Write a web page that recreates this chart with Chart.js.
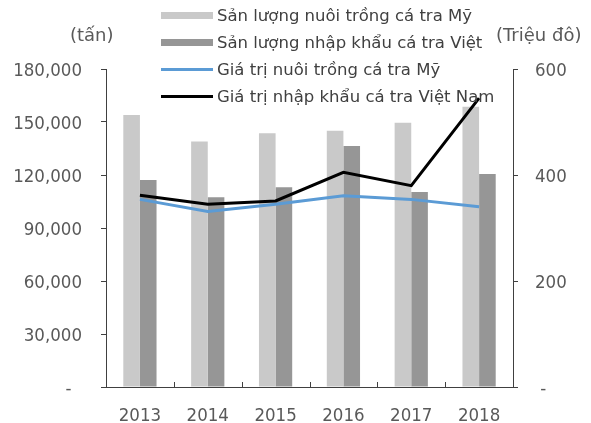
<!DOCTYPE html>
<html>
<head>
<meta charset="utf-8">
<script src="https://cdn.jsdelivr.net/npm/chart.js@4/dist/chart.umd.min.js"></script>
<style>
    body { margin: 0; background: #fff; }
    #wrap { position: relative; width: 591px; height: 423px; font-family: "DejaVu Sans", sans-serif; }
    .unit { position: absolute; top: 24px; font-size: 18px; color: #595959; }
    .row { position: absolute; left: 161px; height: 26px; display: flex; align-items: center; font-size: 16.5px; color: #404040; white-space: nowrap; }
    .sw { width: 52px; margin-right: 4px; }
</style>
</head>
<body>
<div id="wrap">
    <canvas id="myChart" width="591" height="423"></canvas>
    <div class="unit" style="left:70px">(tấn)</div>
    <div class="unit" style="left:496px">(Triệu đô)</div>
    <div id="legend"></div>
</div>
<script>
const years = ['2013', '2014', '2015', '2016', '2017', '2018'];
// tonnes
const usFarmed = [154000, 139000, 143600, 145000, 149600, 158700];
const vnImport = [117200, 107400, 113000, 136400, 110400, 120600];
// million USD
const usValue = [354, 331, 345, 361, 354, 340];
const vnValue = [362, 345, 351, 405, 380, 545];

const leftTicks = [0, 30000, 60000, 90000, 120000, 150000, 180000];
const rightTicks = [0, 200, 400, 600];

const axisColor = '#404040';
const labelFont = { family: '"DejaVu Sans Condensed", "DejaVu Sans"', size: 18.5 };

// small upward ticks between the year groups
const xInnerTicks = {
    id: 'xInnerTicks',
    afterDraw(chart){
        const x = chart.scales.x;
        const ctx = chart.ctx;
        const bottom = chart.chartArea.bottom;
        ctx.save();
        ctx.strokeStyle = axisColor;
        ctx.lineWidth = 1;
        for (let i = 1; i < years.length; i++){
            const px = Math.round((x.getPixelForValue(i - 1) + x.getPixelForValue(i)) / 2) + 0.5;
            ctx.beginPath();
            ctx.moveTo(px, bottom);
            ctx.lineTo(px, bottom - 5);
            ctx.stroke();
        }
        ctx.restore();
    }
};

const ctx = document.getElementById('myChart').getContext('2d');
const myChart = new Chart(ctx, {
    type: 'bar',
    data: {
        labels: years,
        datasets: [
            {
                label: 'Sản lượng nuôi trồng cá tra Mỹ',
                data: usFarmed,
                backgroundColor: '#c9c9c9',
                yAxisID: 'y',
                order: 2,
                barPercentage: 1,
                categoryPercentage: 0.49
            },
            {
                label: 'Sản lượng nhập khẩu cá tra Việt',
                data: vnImport,
                backgroundColor: '#969696',
                yAxisID: 'y',
                order: 2,
                barPercentage: 1,
                categoryPercentage: 0.49
            },
            {
                type: 'line',
                label: 'Giá trị nuôi trồng cá tra Mỹ',
                data: usValue,
                borderColor: '#5b9bd5',
                borderWidth: 3,
                pointRadius: 0,
                tension: 0,
                yAxisID: 'y1',
                order: 1
            },
            {
                type: 'line',
                label: 'Giá trị nhập khẩu cá tra Việt Nam',
                data: vnValue,
                borderColor: '#000000',
                borderWidth: 3,
                pointRadius: 0,
                tension: 0,
                yAxisID: 'y1',
                order: 0
            }
        ]
    },
    options: {
        responsive: false,
        animation: false,
        layout: { padding: { top: 69, left: 0, right: 0, bottom: 0 } },
        plugins: {
            legend: { display: false },
            tooltip: { enabled: false }
        },
        scales: {
            x: {
                afterFit: (scale) => { scale.height = 36; },
                grid: { display: false, offset: true },
                border: { display: true, color: axisColor },
                ticks: { color: '#595959', font: labelFont, padding: 10 }
            },
            y: {
                position: 'left',
                min: 0,
                max: 180000,
                afterFit: (scale) => { scale.width = 106; },
                afterBuildTicks: (scale) => { scale.ticks = leftTicks.map(v => ({ value: v })); },
                grid: { drawOnChartArea: false, tickLength: 5, color: axisColor },
                border: { display: true, color: axisColor },
                ticks: {
                    color: '#595959',
                    font: labelFont,
                    padding: 19,
                    labelOffset: 2,
                    callback: (v) => v === 0 ? '-  ' : v.toLocaleString('en-US')
                }
            },
            y1: {
                position: 'right',
                min: 0,
                max: 600,
                afterFit: (scale) => { scale.width = 78; },
                afterBuildTicks: (scale) => { scale.ticks = rightTicks.map(v => ({ value: v })); },
                grid: { drawOnChartArea: false, tickLength: 5, color: axisColor },
                border: { display: true, color: axisColor },
                ticks: {
                    color: '#595959',
                    font: labelFont,
                    padding: 17,
                    labelOffset: 2,
                    callback: (v) => v === 0 ? ' -' : String(v)
                }
            }
        }
    },
    plugins: [xInnerTicks]
});

// legend rows built from the datasets
function buildLegend(){
    const legend = document.getElementById('legend');
    myChart.data.datasets.forEach((ds, i) => {
        const row = document.createElement('div');
        row.className = 'row';
        row.style.top = (2 + i * 27) + 'px';
        const sw = document.createElement('span');
        sw.className = 'sw';
        if (ds.type === 'line'){
            sw.style.height = '3px';
            sw.style.background = ds.borderColor;
        } else {
            sw.style.height = '7px';
            sw.style.background = ds.backgroundColor;
        }
        row.appendChild(sw);
        row.appendChild(document.createTextNode(ds.label));
        legend.appendChild(row);
    });
}

buildLegend();
</script>
</body>
</html>
